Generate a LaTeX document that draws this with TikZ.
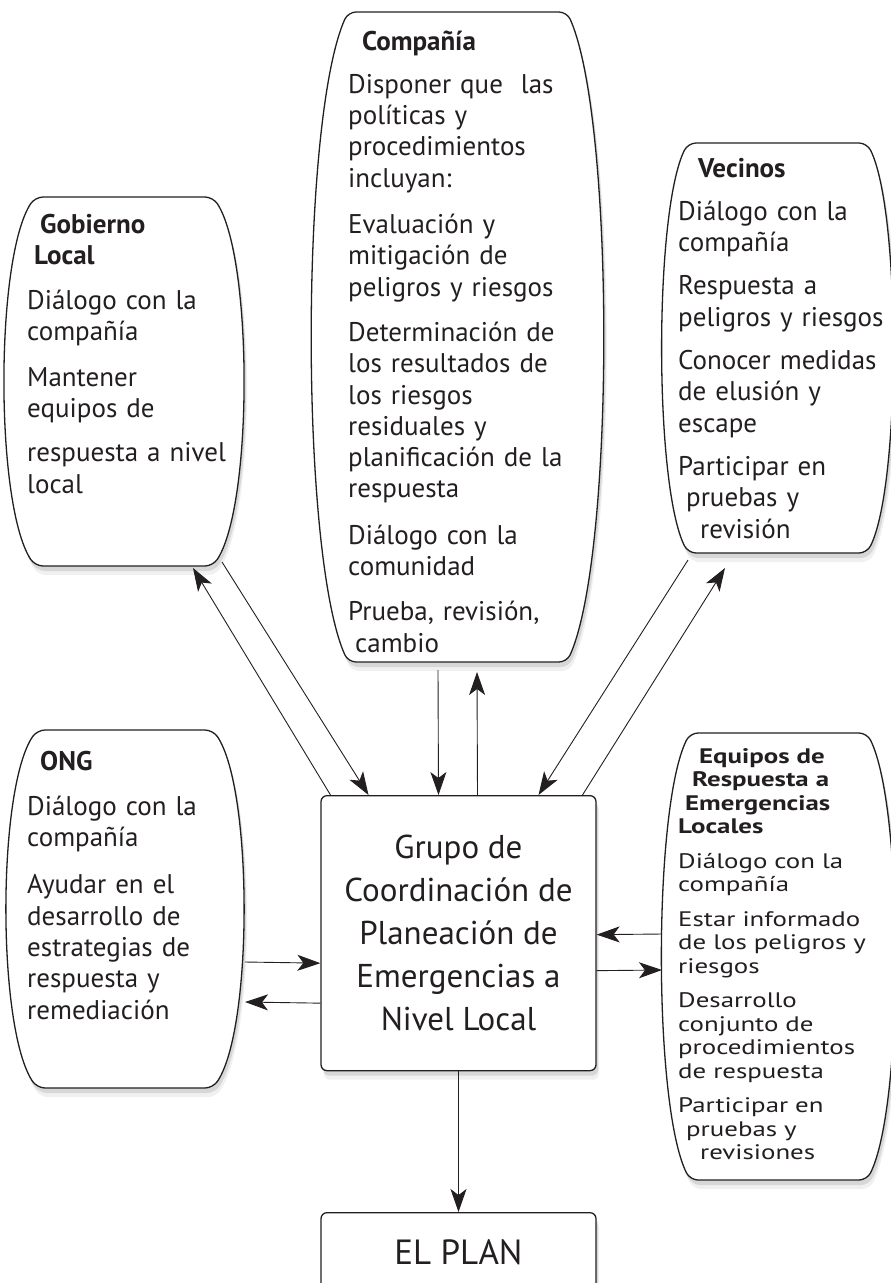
\documentclass[tikz,border=0pt]{standalone}
\usepackage{fontspec}
\setmainfont{PT Sans}
\newfontfamily\stretchFamily[FakeStretch = 1.28]{PT Sans}
\usepackage{tikz}
\usetikzlibrary{arrows.meta, shadows}
\definecolor{inkColor}{RGB}{35,31,32}
\newcommand{\bodyFont}{\fontsize{27}{31.3}\selectfont\lineskiplimit=-50pt}
\newcommand{\tightFont}{\stretchFamily\fontsize{21}{23.5}\selectfont\lineskiplimit=-50pt}
\newcommand{\groupFont}{\fontsize{33}{43}\selectfont}
\newcommand{\planFont}{\fontsize{35}{40}\selectfont}
\tikzstyle{pixelGrid} = [x = 1pt, y = -1pt]
\tikzstyle{shadowStyle} = [drop shadow = {shadow xshift = 3pt, shadow yshift = -9pt, opacity = .12}, drop shadow = {shadow xshift = 2pt, shadow yshift = -5pt, opacity = .22}]
\tikzstyle{barrelFrame} = [rectangle, anchor = north west, inner sep = 0pt, outer sep = 0pt]
\tikzstyle{barrelLine} = [draw = inkColor, fill = white, line width = 1.3pt, rounded corners = 8pt, shadowStyle]
\tikzstyle{barrelText} = [anchor = base west, inner sep = 0pt, text width = 240pt, align = left, text = inkColor, font = \bodyFont]
\tikzstyle{tightText} = [barrelText, font = \tightFont]
\tikzstyle{groupBox} = [draw = inkColor, fill = white, line width = 1.3pt, rounded corners = 6pt, anchor = north, minimum width = 275pt, align = center, text = inkColor, shadowStyle]
\tikzstyle{flowArrow} = [draw = inkColor, line width = .9pt, -{Stealth[length = 23pt, width = 16pt, inset = 6pt]}]
\newcommand{\barrelShape}[6]{
  \pgfmathsetmacro{\barrelWidth}{#4 - #2}
  \pgfmathsetmacro{\barrelHeight}{#5 - #3}
  \pgfmathsetmacro{\barrelReach}{\barrelHeight / 6}
  \node [barrelFrame, minimum width = \barrelWidth pt, minimum height = \barrelHeight pt] (#1) at (#2, #3) {};
  \draw [barrelLine] (#1.north) -- (#1.north east) .. controls +(#6, \barrelReach) and +(#6, -\barrelReach) .. (#1.south east) -- (#1.south west) .. controls +(-#6, -\barrelReach) and +(-#6, \barrelReach) .. (#1.north west) -- cycle;
}

\begin{document}
\begin{tikzpicture}[pixelGrid]
  \useasboundingbox (0, 0) rectangle (891, 1283);
  \barrelShape{gobiernoBox}{35}{197}{213}{566}{40}
  \barrelShape{companiaBox}{348}{12}{567}{662}{48}
  \barrelShape{vecinosBox}{688}{143}{867}{553}{34}
  \barrelShape{ongBox}{37}{730}{213}{1088}{40}
  \barrelShape{equiposBox}{690}{733}{867}{1180}{37}

  \node [barrelText] (gobiernoText) at (27, 233) {\hspace*{13pt}\textbf{Gobierno}\\ \hspace*{7pt}\textbf{Local}\\[14pt] Diálogo con la\\ compañía\\[14pt] Mantener\\ equipos de\\[13pt] respuesta a nivel\\ local};
  \node [barrelText] (companiaText) at (348, 50) {\hspace*{14pt}\textbf{Compañía}\\[12pt] Disponer que~\ las\\ políticas y\\ procedimientos\\ incluyan:\\[15pt] Evaluación y\\ mitigación de\\ peligros y riesgos\\[14pt] Determinación de\\ los resultados de\\ los riesgos\\ residuales y\\ planificación de la\\ respuesta\\[15pt] Diálogo con la\\ comunidad\\[14pt] Prueba, revisión,\\ \hspace*{7pt}cambio};
  \node [barrelText] (vecinosText) at (678, 177) {\hspace*{20pt}\textbf{Vecinos}\\[12pt] Diálogo con la\\ compañía\\[12pt] Respuesta a\\ peligros y riesgos\\[12pt] Conocer medidas\\ de elusión y\\ escape\\[12pt] Participar en\\ \hspace*{8pt}pruebas y\\ \hspace*{22pt}revisión};
  \node [barrelText] (ongText) at (27, 770) {\hspace*{13pt}\textbf{ONG}\\[14pt] Diálogo con la\\ compañía\\[16pt] Ayudar en el\\ desarrollo de\\ estrategias de\\ respuesta y\\ remediación};
  \node [tightText] (equiposText) at (678, 763) {\hspace*{21pt}\textbf{Equipos de}\\ \hspace*{14pt}\textbf{Respuesta a}\\ \hspace*{7pt}\textbf{Emergencias}\\ \textbf{Locales}\\[11pt] Diálogo con la\\ compañía\\[11pt] Estar informado\\ de los peligros y\\ riesgos\\[11pt] Desarrollo\\ conjunto de\\ procedimientos\\ de respuesta\\[11pt] Participar en\\ \hspace*{8pt}pruebas y\\ \hspace*{22pt}revisiones};

  \node [groupBox, minimum height = 275pt, font = \groupFont] (grupoBox) at (458.5, 795) {Grupo de\\ Coordinación de\\ Planeación de\\ Emergencias a\\ Nivel Local};
  \node [groupBox, minimum height = 80pt, font = \planFont] (planBox) at (458.5, 1212) {EL PLAN};

  \draw [flowArrow] ([shift = {(9, -4)}]gobiernoBox.south east) -- ([xshift = -90pt]grupoBox.north);
  \draw [flowArrow] ([xshift = -128pt]grupoBox.north) -- ([shift = {(-20, 2)}]gobiernoBox.south east);
  \draw [flowArrow] ([shift = {(-19.5, 8)}]companiaBox.south) -- ([xshift = -20pt]grupoBox.north);
  \draw [flowArrow] ([xshift = 19pt]grupoBox.north) -- ([shift = {(19.5, 10)}]companiaBox.south);
  \draw [flowArrow] ([shift = {(0, 7)}]vecinosBox.south west) -- ([xshift = 80pt]grupoBox.north);
  \draw [flowArrow] ([xshift = 124pt]grupoBox.north) -- ([shift = {(37, 15)}]vecinosBox.south west);
  \draw [flowArrow] ([shift = {(32, 53)}]ongBox.east) -- ([shift = {(0, 30)}]grupoBox.west);
  \draw [flowArrow] ([shift = {(0, 70)}]grupoBox.west) -- ([shift = {(32, 93)}]ongBox.east);
  \draw [flowArrow] ([shift = {(-28, -22.5)}]equiposBox.west) -- ([shift = {(0, 1.5)}]grupoBox.east);
  \draw [flowArrow] ([shift = {(0, 37.5)}]grupoBox.east) -- ([shift = {(-28, 13.5)}]equiposBox.west);
  \draw [flowArrow] (grupoBox.south) -- (planBox.north);
\end{tikzpicture}
\end{document}
